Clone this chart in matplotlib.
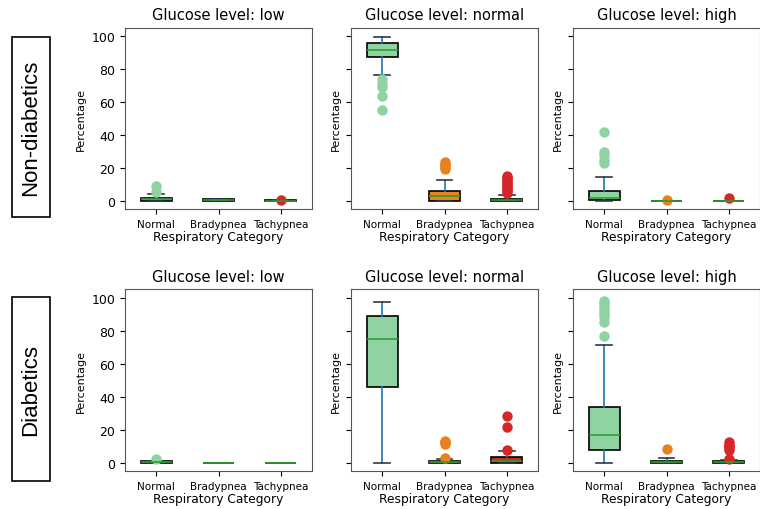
import matplotlib.pyplot as plt
from matplotlib.patches import Rectangle

categories = ['Normal', 'Bradypnea', 'Tachypnea']
glucose_levels = ['low', 'normal', 'high']
groups = ['Non-diabetics', 'Diabetics']
box_colors = ['#8fd3a2', '#e8821e', '#d62728']

# box stats per panel: (q1, med, q3, whislo, whishi, fliers) for each category
nondiab_low = [
    (0.0, 1.0, 2.0, 0.0, 4.2, [5.5, 9.0]),
    (0.0, 0.5, 1.0, 0.0, 1.0, []),
    (0.0, 0.0, 0.3, 0.0, 0.3, [0.8]),
]
nondiab_normal = [
    (87.0, 91.7, 95.6, 76.4, 99.2, [55.3, 63.8, 69.0, 71.0, 73.9]),
    (0.0, 3.0, 5.9, 0.0, 12.7, [19.4, 20.5, 21.5, 22.5, 23.4]),
    (0.0, 0.5, 1.2, 0.0, 3.8, [5, 6, 7, 8, 9, 10, 11, 12, 13, 14, 15.3]),
]
nondiab_high = [
    (0.3, 1.5, 6.2, 0.0, 14.7, [23.0, 25.0, 27.5, 29.5, 41.6]),
    (0.0, 0.0, 0.2, 0.0, 0.2, [0.3]),
    (0.0, 0.0, 0.2, 0.0, 0.2, [1.6]),
]
diab_low = [
    (0.0, 0.5, 1.0, 0.0, 1.0, [2.0]),
    (0.0, 0.0, 0.1, 0.0, 0.1, []),
    (0.0, 0.0, 0.1, 0.0, 0.1, []),
]
diab_normal = [
    (45.7, 75.1, 89.1, 0.0, 97.4, []),
    (0.0, 0.5, 1.0, 0.0, 2.0, [2.6, 11.5, 12.5, 13.0]),
    (0.0, 1.0, 3.2, 0.0, 7.2, [7.8, 21.5, 28.4]),
]
diab_high = [
    (7.6, 16.9, 33.8, 0.0, 71.6, [76.7, 85.0, 88.5, 90.0, 92.0, 94.0, 96.0, 97.0, 98.0]),
    (0.0, 0.5, 1.2, 0.0, 3.0, [8.6]),
    (0.0, 0.5, 1.0, 0.0, 1.5, [2.4, 8.0, 9.0, 10.0, 11.0, 12.5]),
]
panels = [[nondiab_low, nondiab_normal, nondiab_high],
          [diab_low, diab_normal, diab_high]]

fig = plt.figure(figsize=(7.6, 5.1), dpi=100)
lefts = [0.1645, 0.462, 0.754]
bottoms = [0.588, 0.0745]
w, h = 0.246, 0.356

for r in range(2):
    first = None
    for c in range(3):
        ax = fig.add_axes([lefts[c], bottoms[r], w, h], sharey=first)
        if first is None:
            first = ax
        stats = []
        for cat, (q1, med, q3, lo, hi, fl) in zip(categories, panels[r][c]):
            stats.append(dict(label=cat, q1=q1, med=med, q3=q3,
                              whislo=lo, whishi=hi, fliers=fl))
        bp = ax.bxp(stats, positions=[0, 1, 2], widths=0.5, patch_artist=True,
                    boxprops=dict(edgecolor='black', linewidth=1.2),
                    medianprops=dict(color='#2ca02c', linewidth=1.2),
                    whiskerprops=dict(color='#1f77b4', linewidth=1.2),
                    capprops=dict(color='#2b3a4a', linewidth=1.2),
                    flierprops=dict(marker='o', markersize=7.5,
                                    markeredgewidth=0))
        for patch, col in zip(bp['boxes'], box_colors):
            patch.set_facecolor(col)
        for fl, col in zip(bp['fliers'], box_colors):
            fl.set_markerfacecolor(col)
        ax.set_xlim(-0.5, 2.5)
        ax.set_ylim(-5, 105)
        ax.set_yticks([0, 20, 40, 60, 80, 100])
        if c > 0:
            ax.tick_params(axis='y', labelleft=False)
        ax.tick_params(axis='x', labelsize=7.5)
        ax.tick_params(axis='y', labelsize=9)
        ax.set_title('Glucose level: ' + glucose_levels[c], fontsize=10.5)
        ax.set_xlabel('Respiratory Category', fontsize=8.8, labelpad=1)
        ax.set_ylabel('Percentage', fontsize=8)
        for s in ax.spines.values():
            s.set_color('#555555')

# row labels in boxes
for (y0, y1), name in zip([(38, 218), (298, 482)], groups):
    fig.patches.append(Rectangle((12 / 760, 1 - y1 / 510), 38 / 760, (y1 - y0) / 510,
                                 transform=fig.transFigure, fill=False,
                                 edgecolor='black', linewidth=1.2))
    fig.text(31 / 760, 1 - (y0 + y1) / 2 / 510, name, rotation=90,
             ha='center', va='center', fontsize=16, family='Liberation Sans')

fig.savefig('out.png', dpi=100)
